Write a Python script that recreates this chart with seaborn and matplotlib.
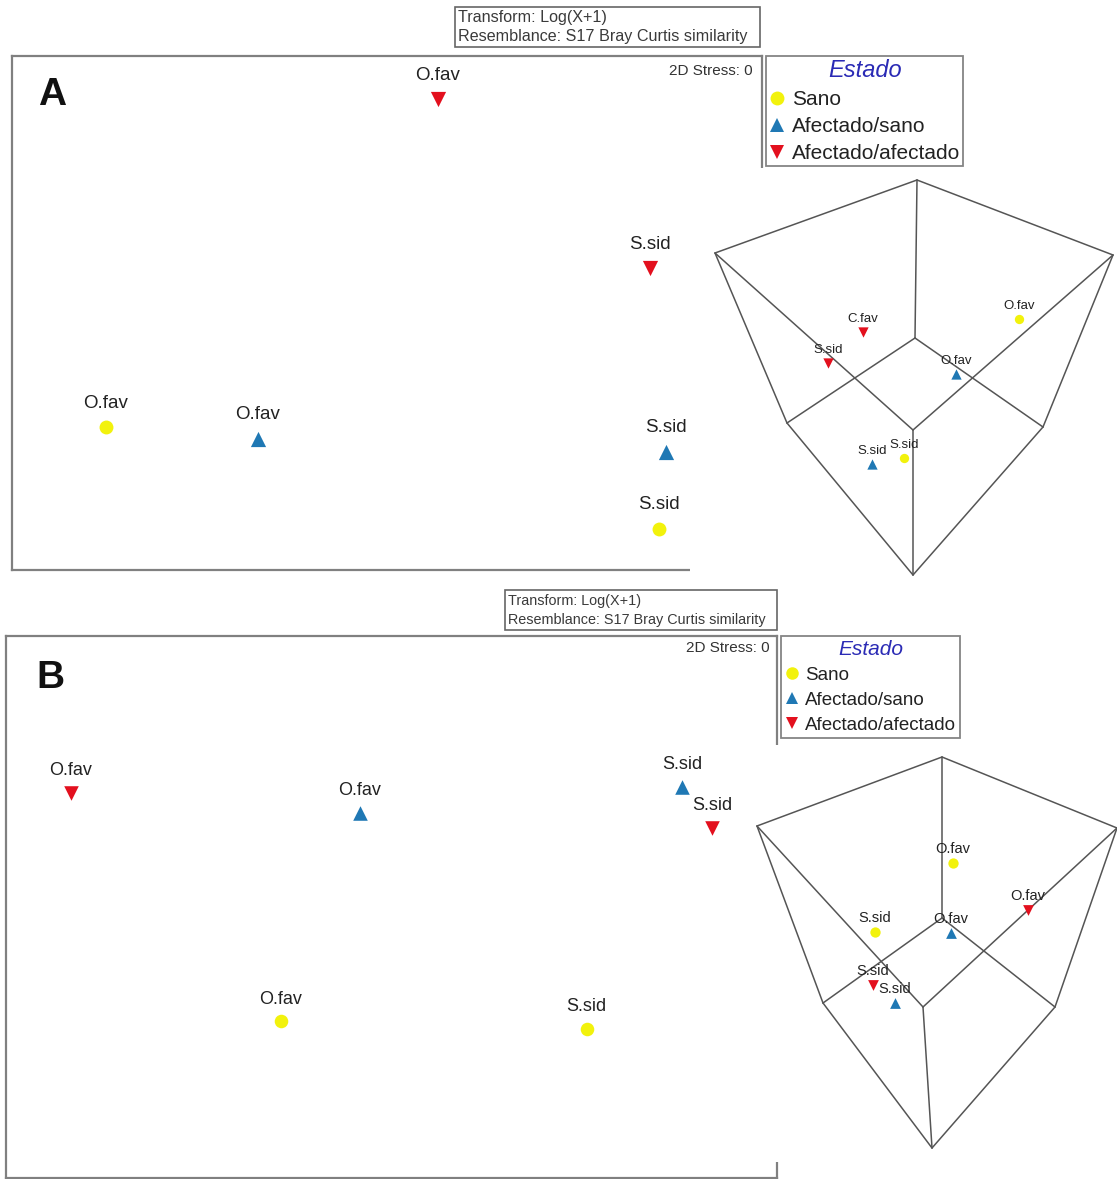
import pandas as pd
import matplotlib.pyplot as plt
import seaborn as sns
from matplotlib.lines import Line2D
from matplotlib.patches import Rectangle

# tamaño de la figura en pixeles
W, H = 1117, 1179

# categorías y estilos
estados = ['Sano', 'Afectado/sano', 'Afectado/afectado']
colores = {'Sano': '#f2f20c', 'Afectado/sano': '#1f78b4', 'Afectado/afectado': '#e3101e'}
marcadores = {'Sano': 'o', 'Afectado/sano': '^', 'Afectado/afectado': 'v'}

# ---- datos panel A (nMDS 2D) ----
a_sp = ['O.fav', 'S.sid', 'O.fav', 'O.fav', 'S.sid', 'S.sid']
a_est = ['Afectado/afectado', 'Afectado/afectado', 'Sano', 'Afectado/sano', 'Afectado/sano', 'Sano']
a_x = [0.27, 1.40, -1.50, -0.69, 1.49, 1.45]
a_y = [1.14, 0.24, -0.61, -0.67, -0.74, -1.15]

# ---- datos panel A (nMDS 3D proyectado) ----
a3_sp = ['C.fav', 'S.sid', 'O.fav', 'O.fav', 'S.sid', 'S.sid']
a3_est = ['Afectado/afectado', 'Afectado/afectado', 'Sano', 'Afectado/sano', 'Afectado/sano', 'Sano']
a3_x = [-0.52, -0.87, 1.04, 0.41, -0.43, -0.11]
a3_y = [0.48, 0.17, 0.61, 0.06, -0.84, -0.78]

# ---- datos panel B (nMDS 2D) ----
b_sp = ['O.fav', 'O.fav', 'S.sid', 'S.sid', 'O.fav', 'S.sid']
b_est = ['Afectado/afectado', 'Afectado/sano', 'Afectado/sano', 'Afectado/afectado', 'Sano', 'Sano']
b_x = [-1.71, -0.17, 1.55, 1.71, -0.59, 1.04]
b_y = [0.61, 0.50, 0.64, 0.42, -0.61, -0.65]

# ---- datos panel B (nMDS 3D proyectado) ----
b3_sp = ['O.fav', 'O.fav', 'S.sid', 'O.fav', 'S.sid', 'S.sid']
b3_est = ['Sano', 'Afectado/afectado', 'Sano', 'Afectado/sano', 'Afectado/afectado', 'Afectado/sano']
b3_x = [0.11, 0.86, -0.67, 0.09, -0.69, -0.47]
b3_y = [0.97, 0.50, 0.28, 0.27, -0.25, -0.43]

# vértices del cubo proyectado: arriba, sup-izq, sup-der, inf-izq, inf-der, abajo, centro atrás, centro frente
cubo_a_x = [0.02, -2.00, 1.98, -1.28, 1.28, -0.02, 0.00, -0.02]
cubo_a_y = [2.00, 1.27, 1.25, -0.43, -0.47, -1.95, 0.42, -0.50]
cubo_b_x = [0.00, -1.85, 1.75, -1.19, 1.13, -0.10, 0.00, -0.19]
cubo_b_y = [2.03, 1.34, 1.32, -0.43, -0.47, -1.88, 0.42, -0.47]
aristas = [(0, 1), (0, 2), (1, 3), (2, 4), (3, 5), (4, 5),
           (6, 0), (6, 3), (6, 4), (7, 1), (7, 2), (7, 5)]

sns.set_style('white')
plt.rcParams['font.family'] = ['Liberation Sans', 'DejaVu Sans']


def px_rect(x0, y0, x1, y1):
    return [x0 / W, 1 - y1 / H, (x1 - x0) / W, (y1 - y0) / H]


def puntos(ax, sp, est, x, y, s_tri, s_circ, fs, off):
    df = pd.DataFrame({'x': x, 'y': y, 'estado': est, 'sp': sp})
    for e in estados:
        sub = df[df['estado'] == e]
        sns.scatterplot(data=sub, x='x', y='y', marker=marcadores[e], color=colores[e],
                        s=s_circ if e == 'Sano' else s_tri, linewidth=0, legend=False,
                        ax=ax, zorder=3)
    for _, r in df.iterrows():
        ax.annotate(r['sp'], (r['x'], r['y']), xytext=(0, off), textcoords='offset points',
                    ha='center', va='bottom', fontsize=fs, color='#222222', zorder=4)


def panel(rect, xlim, ylim, letra, letra_pos, stress_pos):
    ax = fig.add_axes(rect)
    ax.set_xlim(*xlim)
    ax.set_ylim(*ylim)
    ax.set_xticks([])
    ax.set_yticks([])
    ax.set_xlabel('')
    ax.set_ylabel('')
    for sp in ax.spines.values():
        sp.set_color('#808080')
        sp.set_linewidth(1.6)
    ax.text(letra_pos[0], letra_pos[1], letra, transform=ax.transAxes, fontsize=28,
            fontweight='bold', ha='center', va='center', color='#111111')
    ax.text(stress_pos[0], stress_pos[1], '2D Stress: 0', transform=ax.transAxes,
            fontsize=11, ha='right', va='center', color='#333333')
    return ax


def cubo(rect, xlim, ylim, cx, cy):
    ax = fig.add_axes(rect)
    ax.set_facecolor('white')
    ax.set_xlim(*xlim)
    ax.set_ylim(*ylim)
    ax.set_xticks([])
    ax.set_yticks([])
    for sp in ax.spines.values():
        sp.set_visible(False)
    for i, j in aristas:
        ax.plot([cx[i], cx[j]], [cy[i], cy[j]], color='#555555', lw=1.1, zorder=1)
    return ax


def encabezado(x0, y0, x1, y1, fs):
    fig.add_artist(Rectangle((x0 / W, 1 - y1 / H), (x1 - x0) / W, (y1 - y0) / H,
                             transform=fig.transFigure, fill=False, edgecolor='#666666', lw=1.2))
    h = y1 - y0
    fig.text((x0 + 3) / W, 1 - (y0 + h * 0.27) / H, 'Transform: Log(X+1)',
             fontsize=fs, va='center', ha='left', color='#3a3a3a')
    fig.text((x0 + 3) / W, 1 - (y0 + h * 0.74) / H, 'Resemblance: S17 Bray Curtis similarity',
             fontsize=fs, va='center', ha='left', color='#3a3a3a')


def leyenda(x0, y0, fs, tfs, ms, esp, pad):
    handles = [Line2D([], [], marker=marcadores[e], color=colores[e], linestyle='',
                      markersize=ms, markeredgewidth=0) for e in estados]
    leg = fig.legend(handles, estados, loc='upper left', bbox_to_anchor=(x0 / W, 1 - y0 / H),
                     bbox_transform=fig.transFigure, frameon=True, fancybox=False,
                     edgecolor='#666666', title='Estado', fontsize=fs,
                     title_fontproperties={'style': 'italic', 'size': tfs},
                     handlelength=0.8, handletextpad=0.3, borderpad=pad,
                     labelspacing=esp, borderaxespad=0)
    leg.get_title().set_color('#2b2bb5')
    leg.get_frame().set_linewidth(1.3)
    for t in leg.get_texts():
        t.set_color('#222222')
    return leg


fig = plt.figure(figsize=(W / 100, H / 100), dpi=100)

# ---- panel A ----
axA = panel(px_rect(12, 56, 762, 570), (-2.0, 2.0), (-1.371, 1.371), 'A',
            (0.053, 0.924), (0.987, 0.971))
puntos(axA, a_sp, a_est, a_x, a_y, 120, 100, 13.5, 11)
ax3A = cubo(px_rect(690, 168, 1117, 582), (-2.25, 2.02), (-2.02, 2.12), cubo_a_x, cubo_a_y)
puntos(ax3A, a3_sp, a3_est, a3_x, a3_y, 55, 45, 9.5, 5)
encabezado(455, 7, 760, 47, 11.6)
leyenda(766, 56, 15, 17, 10, 0.38, 0.15)

# ---- panel B ----
axB = panel(px_rect(6, 636, 777, 1178), (-2.056, 2.056), (-1.445, 1.445), 'B',
            (0.057, 0.922), (0.991, 0.978))
puntos(axB, b_sp, b_est, b_x, b_y, 110, 95, 13, 10)
ax3B = cubo(px_rect(745, 745, 1117, 1162), (-1.97, 1.75), (-2.02, 2.15), cubo_b_x, cubo_b_y)
puntos(ax3B, b3_sp, b3_est, b3_x, b3_y, 60, 55, 10.5, 5)
encabezado(505, 590, 777, 630, 10.4)
leyenda(781, 636, 13.5, 15, 9, 0.42, 0.2)

plt.savefig('out.png', dpi=100)
plt.close()
